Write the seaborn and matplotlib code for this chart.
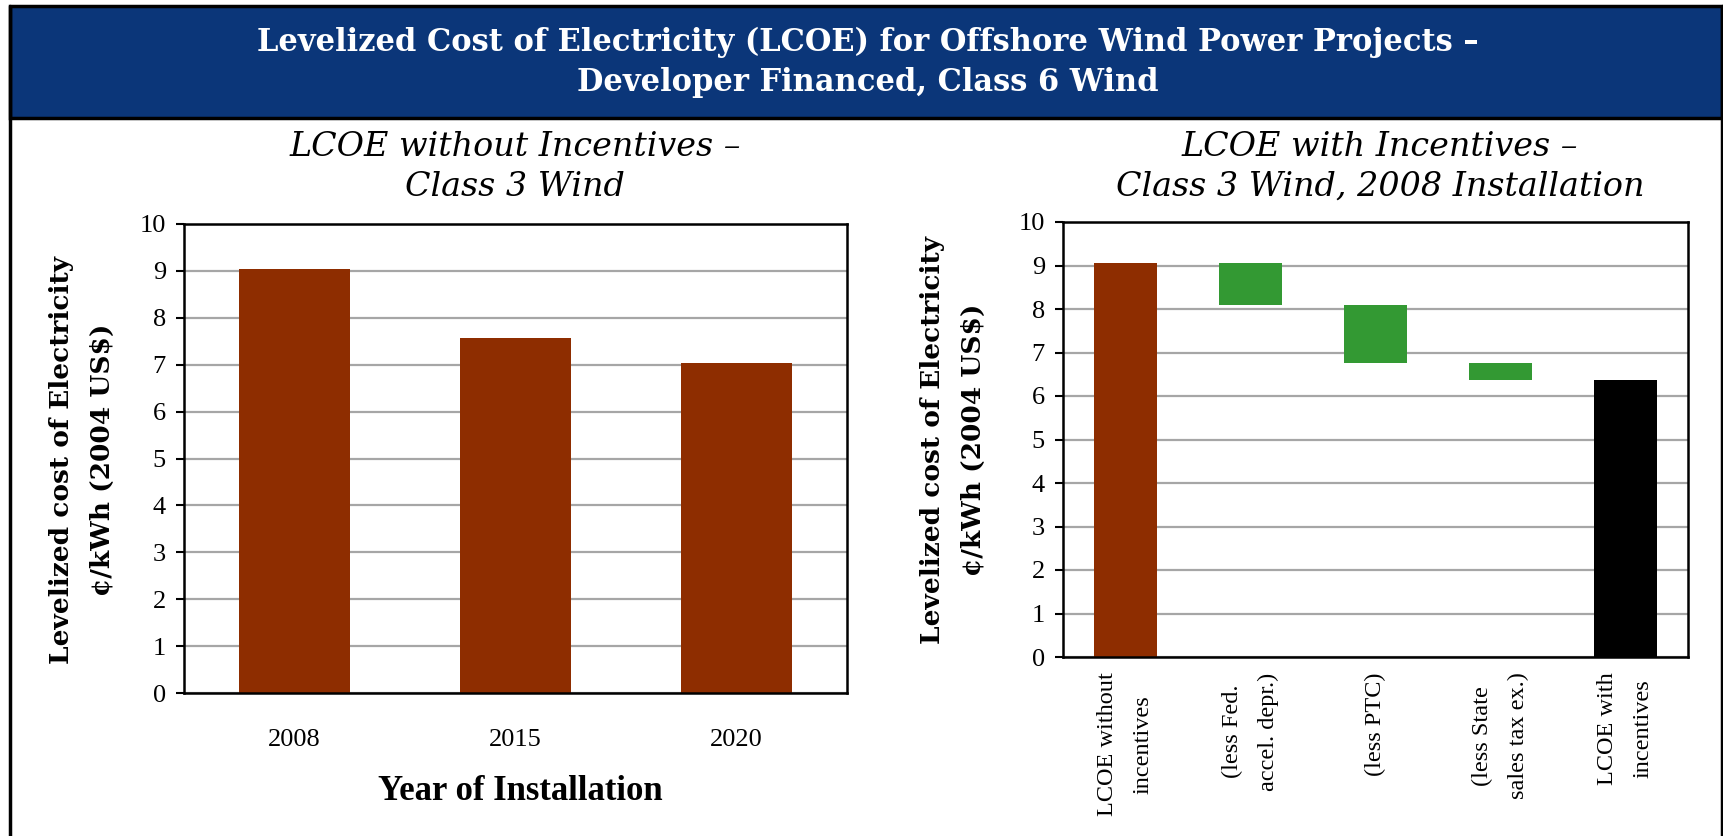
import numpy as np
import matplotlib
matplotlib.use("Agg")
import matplotlib.pyplot as plt
from matplotlib.patches import Rectangle
from matplotlib.lines import Line2D
import seaborn as sns

# ---- data ----
years = ["2008", "2015", "2020"]
lcoe_by_year = [9.05, 7.57, 7.04]

steps = ["LCOE without\nincentives", "(less Fed.\naccel. depr.)", "(less PTC)",
         "(less State\nsales tax ex.)", "LCOE with\nincentives"]
lcoe_no_incentives = 9.05
incentive_reductions = [0.95, 1.33, 0.40]

y_ticks = list(range(0, 11))

# ---- style ----
BROWN = "#8E2D00"
GREEN = "#339933"
BLACK = "#000000"
NAVY = "#0B3679"
GRID = "#A6A6A6"

sns.set_style("white")
plt.rcParams["font.family"] = ["Liberation Serif", "DejaVu Serif"]
plt.rcParams.update({"text.color": "black", "axes.labelcolor": "black",
                     "xtick.color": "black", "ytick.color": "black"})
WIDE = ["DejaVu Serif"]

W, H = 1724, 836
fig = plt.figure(figsize=(W / 100, H / 100), dpi=100)


def fx(px):
    return px / W


def fy(py):
    return 1 - py / H


# header band and outer frame
fig.patches.append(Rectangle((fx(10), fy(118)), fx(1722) - fx(10), fy(6) - fy(118),
                             transform=fig.transFigure, facecolor=NAVY,
                             edgecolor="black", lw=2.5, zorder=0))
for xpx in (10, 1722):
    fig.lines.append(Line2D([fx(xpx), fx(xpx)], [0, fy(6)], transform=fig.transFigure,
                            color="black", lw=2.5))

fig.text(fx(868), fy(62),
         "Levelized Cost of Electricity (LCOE) for Offshore Wind Power Projects –\n"
         "Developer Financed, Class 6 Wind",
         color="white", fontsize=22, fontweight="bold", family=WIDE,
         ha="center", va="center", multialignment="center", linespacing=1.38)

# ---- left panel: LCOE by installation year ----
ax1 = fig.add_axes([fx(184), fy(693), fx(847) - fx(184), fy(224) - fy(693)])
sns.barplot(x=years, y=lcoe_by_year, color=BROWN, saturation=1, width=0.5,
            linewidth=0, ax=ax1)

# ---- right panel: waterfall of incentives ----
tops = [lcoe_no_incentives]
bottoms = [0.0]
level = lcoe_no_incentives
for r in incentive_reductions:
    tops.append(level)
    level = level - r
    bottoms.append(level)
tops.append(level)
bottoms.append(0.0)
heights = [t - b for t, b in zip(tops, bottoms)]

ax2 = fig.add_axes([fx(1063), fy(657), fx(1688) - fx(1063), fy(222) - fy(657)])
sns.barplot(x=steps, y=heights, hue=steps, palette=[BROWN, GREEN, GREEN, GREEN, BLACK],
            saturation=1, width=0.5, linewidth=0, legend=False, ax=ax2)
for patch, b in zip(ax2.patches, bottoms):
    patch.set_y(b)

for ax in (ax1, ax2):
    ax.set_ylim(0, 10)
    ax.set_yticks(y_ticks)
    ax.yaxis.grid(True, color=GRID, lw=1.6)
    ax.xaxis.grid(False)
    ax.set_axisbelow(True)
    ax.set_xlabel("")
    ax.set_ylabel("")
    for s in ax.spines.values():
        s.set_visible(True)
        s.set_color("black")
        s.set_linewidth(1.8)
    ax.tick_params(axis="y", left=True, direction="out", length=6, width=1.5,
                   color="black", labelcolor="black", pad=7, labelsize=19)

ax1.tick_params(axis="x", bottom=False, length=0, pad=26, labelsize=19,
                labelcolor="black")

ax2.set_xticks(range(len(steps)))
ax2.set_xticklabels(steps, rotation=90, va="top", ha="center",
                    multialignment="center", linespacing=1.9, fontsize=17.5,
                    color="black")
ax2.tick_params(axis="x", bottom=False, length=0, pad=11)

# panel titles
fig.text(fx(515), fy(167), "LCOE without Incentives –\nClass 3 Wind",
         fontsize=24, style="italic", family=WIDE, ha="center", va="center",
         multialignment="center", linespacing=1.3, color="black")
fig.text(fx(1380), fy(167), "LCOE with Incentives –\nClass 3 Wind, 2008 Installation",
         fontsize=24, style="italic", family=WIDE, ha="center", va="center",
         multialignment="center", linespacing=1.3, color="black")

# axis titles
ylab = "Levelized cost of Electricity\n¢/kWh (2004 US$)"
fig.text(fx(82), fy(460), ylab, rotation=90, fontsize=19, fontweight="bold",
         family=WIDE, ha="center", va="center", multialignment="center",
         linespacing=1.75, color="black")
fig.text(fx(953), fy(440), ylab, rotation=90, fontsize=19, fontweight="bold",
         family=WIDE, ha="center", va="center", multialignment="center",
         linespacing=1.75, color="black")
fig.text(fx(520), fy(791), "Year of Installation", fontsize=25, fontweight="bold",
         ha="center", va="center", color="black")

fig.savefig("out.png", dpi=100, facecolor="white")
